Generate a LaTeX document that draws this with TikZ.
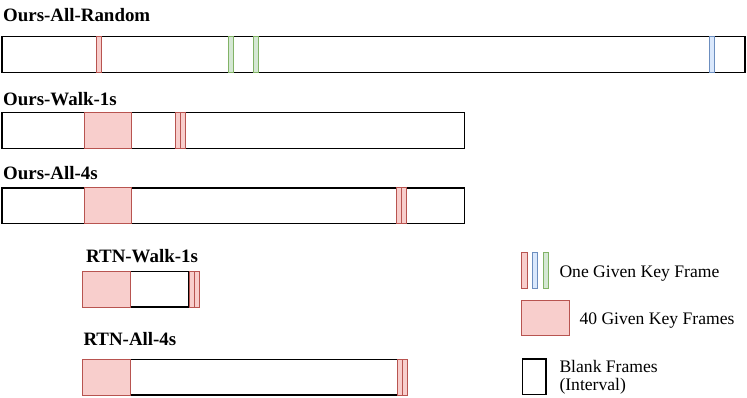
\documentclass[tikz,border=0pt]{standalone}
\usepackage{fontspec}
\setmainfont{Liberation Serif}
\definecolor{key-red}{HTML}{B85450}
\definecolor{key-red-bg}{HTML}{F8CECC}
\definecolor{key-blue}{HTML}{6C8EBF}
\definecolor{key-blue-bg}{HTML}{DAE8FC}
\definecolor{key-green}{HTML}{82B366}
\definecolor{key-green-bg}{HTML}{D5E8D4}

\begin{document}
\begin{tikzpicture}[x=1pt, y=-1pt,
      every node/.style={inner sep=0pt, anchor=base west,
        font=\fontsize{17.6}{17.3}\selectfont},
      title/.style={font=\fontsize{18.9}{18}\selectfont\bfseries},
      blank/.style={draw=black, fill=white, line width=1.3pt},
      redkey/.style={draw=key-red, fill=key-red-bg, line width=1pt},
      bluekey/.style={draw=key-blue, fill=key-blue-bg, line width=1pt},
      greenkey/.style={draw=key-green, fill=key-green-bg, line width=1pt}]
    \useasboundingbox (0,0) rectangle (747,398);
    % Ours-All-Random
    \node[title] (allrand) at (3,21.3) {Ours-All-Random};
    \draw[blank] (2,36.7) rectangle (745,72.7);
    \draw[redkey] (96,36.7) rectangle (101.3,72.7);
    \foreach \x in {228, 253} { \draw[greenkey] (\x,36.7) rectangle (\x+5.3,72.7); }
    \draw[bluekey] (709.5,36.7) rectangle (714.8,72.7);
    % Ours-Walk-1s
    \node[title] (walk) at (3,105.7) {Ours-Walk-1s};
    \draw[blank] (2,112.7) rectangle (464.7,148.3);
    \draw[redkey] (84,112.7) rectangle (131.7,148.3);
    \foreach \x in {175, 180} { \draw[redkey] (\x,112.7) rectangle (\x+5,148.3); }
    % Ours-All-4s
    \node[title] (all) at (3,180) {Ours-All-4s};
    \draw[blank] (2,188) rectangle (464.7,223.3);
    \draw[redkey] (84,188) rectangle (131.7,223.3);
    \foreach \x in {396.7, 401.7} { \draw[redkey] (\x,188) rectangle (\x+5,223.3); }
    % RTN-Walk-1s
    \node[title] (rtnwalk) at (86,262.7) {RTN-Walk-1s};
    \draw[blank] (130.7,271.7) rectangle (189,307);
    \draw[redkey] (82.7,271.7) rectangle (130.7,307);
    \foreach \x in {189, 194} { \draw[redkey] (\x,271.7) rectangle (\x+5,307); }
    % RTN-All-4s
    \node[title] (rtnall) at (83.3,345.7) {RTN-All-4s};
    \draw[blank] (130.7,359.3) rectangle (397.3,395);
    \draw[redkey] (82.7,359.3) rectangle (130.7,395);
    \foreach \x in {397.3, 402.3} { \draw[redkey] (\x,359.3) rectangle (\x+5,395); }
    % legend
    \draw[redkey] (521.7,252.3) rectangle (527.7,288.3);
    \draw[bluekey] (532.3,252.3) rectangle (537.7,288.3);
    \draw[greenkey] (543,252.3) rectangle (548.3,288.3);
    \node (onekey) at (559.3,277.3) {One Given Key Frame};
    \draw[redkey] (521.7,300) rectangle (569.7,335.7);
    \node (fortykey) at (579.3,324.3) {40 Given Key Frames};
    \draw[blank, line width=1.1pt] (522.3,359) rectangle (546,394.3);
    \node[align=left] (blankkey) at (559.3,390) {Blank Frames\\(Interval)};
\end{tikzpicture}
\end{document}
